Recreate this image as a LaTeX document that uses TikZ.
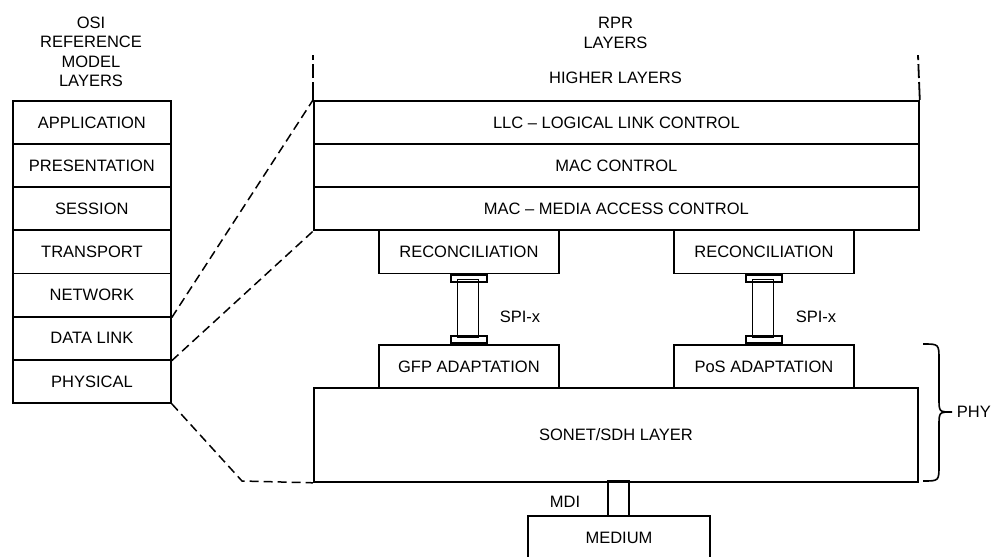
\documentclass[tikz,border=0pt]{standalone}
\usepackage{fontspec}
\setmainfont{Liberation Sans}
\begin{document}
\begin{tikzpicture}[x=1pt,y=-1pt,line width=1.8pt,
  txt/.style={font=\fontsize{16.5}{19.5}\selectfont, inner sep=0pt, align=center},
  layer/.style={draw, rectangle, txt, anchor=north west, minimum height=43.14pt},
  osi/.style={layer, minimum width=158pt},
  rpr/.style={layer, minimum width=605pt},
  sub/.style={layer, minimum width=180pt},
  padbox/.style={draw, rectangle, inner sep=0pt, minimum width=36pt, minimum height=7pt},
  barbox/.style={draw, rectangle, inner sep=0pt, minimum width=21pt},
  mapline/.style={line width=1.5pt, dash pattern=on 9pt off 5pt},
  upper/.style={line width=1.8pt, dash pattern=on 18pt off 4pt on 14pt off 4pt on 5pt off 10pt}]
\useasboundingbox (0,0) rectangle (994,557);

% OSI column
\node[txt] (osititle) at (91,52) {OSI\\REFERENCE\\MODEL\\LAYERS};
\node[osi] (app)   at (12,100)    {APPLICATION};
\node[osi] (pres)  at (12,143.14) {PRESENTATION};
\node[osi] (sess)  at (12,186.29) {SESSION};
\node[osi] (trans) at (12,229.43) {TRANSPORT};
\node[osi] (net)   at (12,272.57) {NETWORK};
\node[osi] (dl)    at (12,315.71) {DATA LINK};
\node[osi] (phys)  at (12,358.86) {PHYSICAL};

% RPR column
\node[txt] (rprtitle) at (615.5,33) {RPR\\LAYERS};
\node[txt] (hl) at (615.5,78) {HIGHER LAYERS};
\node[rpr] (llc)  at (313,100)    {LLC -- LOGICAL LINK CONTROL};
\node[rpr] (macc) at (313,143.14) {MAC CONTROL};
\node[rpr] (mac)  at (313,186.29) {MAC -- MEDIA ACCESS CONTROL};
\coordinate (hlL) at (313,55);
\coordinate (hlR) at (918,55);
\draw[upper] (llc.north west) -- (hlL);
\draw[upper] (llc.north east) -- (hlR);

\node[sub] (recl) at (378,229.43) {RECONCILIATION};
\node[sub] (recr) at (673,229.43) {RECONCILIATION};
\node[sub] (gfp)  at (378,344)    {GFP ADAPTATION};
\node[sub] (pos)  at (673,344)    {PoS ADAPTATION};
\node[draw, rectangle, txt, anchor=north west, minimum width=604pt, minimum height=94pt] (sonet) at (313,387) {SONET/SDH LAYER};

% SPI-x connectors
\node[padbox, anchor=north] (pl1) at (recl.south) {};
\node[padbox, anchor=south] (pl2) at (gfp.north) {};
\node[barbox, minimum height=58pt] (bl) at (468,308.5) {};
\node[padbox, anchor=north] (pr1) at (recr.south) {};
\node[padbox, anchor=south] (pr2) at (pos.north) {};
\node[barbox, minimum height=58pt] (br) at (763,308.5) {};
\node[txt] (spil) at (520,317) {SPI-x};
\node[txt] (spir) at (816,317) {SPI-x};

% MDI and medium
\node[barbox, minimum height=35pt] (mdi) at (618.5,498.5) {};
\node[txt] (mdilabel) at (565,502) {MDI};
\node[rectangle, txt, anchor=north, minimum width=180pt, minimum height=41pt] (med) at (619,516) {MEDIUM};
\draw (med.south west) -- (med.north west) -- (med.north east) -- (med.south east);

% PHY brace
\coordinate (bt) at (923,344);
\coordinate (bb) at (923,481);
\coordinate (tip) at (952,412);
\node[txt, anchor=west] (phy) at (956,412) {PHY};
\draw[line width=1.6pt] (bt) .. controls (939,344) .. (939,360) -- (939,398)
      .. controls (939,412) .. (tip)
      .. controls (939,412) .. (939,426) -- (939,465)
      .. controls (939,481) .. (bb);

% mapping lines
\coordinate (bend) at (242,481);
\draw[mapline] (net.south east) -- (llc.north west);
\draw[mapline] (dl.south east) -- (mac.south west);
\draw[mapline] (phys.south east) -- (bend) -- (sonet.south west);
\end{tikzpicture}
\end{document}
